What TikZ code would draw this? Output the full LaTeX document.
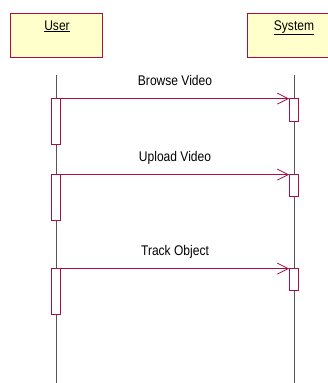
\documentclass[tikz,border=0pt]{standalone}
\usepackage{fontspec}
\setmainfont{Liberation Sans}[FakeStretch=0.86]
\usetikzlibrary{arrows.meta}
\definecolor{umlred}{HTML}{A8103F}
\definecolor{umlfill}{HTML}{FFFFCC}
\definecolor{lifegray}{HTML}{555555}
\tikzset{
  objbox/.style={draw=umlred, fill=umlfill, line width=0.9pt, minimum width=92pt,
    minimum height=44pt, inner sep=0pt, text depth=0pt, anchor=north west},
  objlabel/.style={font=\fontsize{14}{16}\selectfont, anchor=base},
  lifeline/.style={draw=lifegray, line width=0.6pt},
  actbar/.style={draw=umlred, fill=white, line width=0.8pt, minimum width=9pt,
    inner sep=0pt, anchor=north},
  msg/.style={draw=umlred, line width=0.8pt, -{Straight Barb[length=11pt,width=11pt,line width=0.8pt]}},
  msglabel/.style={font=\fontsize{14}{16}\selectfont, anchor=base}
}
\begin{document}
\begin{tikzpicture}[x=1pt,y=-1pt]
\useasboundingbox (0,0) rectangle (328,383);
% object heads
\node[objbox] (user) at (10,13) {};
\node[objbox, minimum width=83pt] (system) at (247,13) {};
\node[objlabel] (userlbl) at (57,30) {\underline{User}};
\node[objlabel] (syslbl) at (294,30) {\underline{System}};
% lifelines
\coordinate (ut) at (56,75);
\coordinate (ub) at (56,383);
\coordinate (st) at (294,75);
\coordinate (sb) at (294,383);
\draw[lifeline] (ut) -- (ub);
\draw[lifeline] (st) -- (sb);
% activation bars
\node[actbar, minimum height=46pt] (ua1) at (56,98) {};
\node[actbar, minimum height=23pt] (sa1) at (294,98) {};
\node[actbar, minimum height=46pt] (ua2) at (56,174) {};
\node[actbar, minimum height=22pt] (sa2) at (294,174) {};
\node[actbar, minimum height=46pt] (ua3) at (56,268) {};
\node[actbar, minimum height=22pt] (sa3) at (294,268) {};
% messages
\draw[msg] ([yshift=-0.6pt]ua1.north east) -- ([yshift=-0.6pt]sa1.north west);
\draw[msg] ([yshift=-0.6pt]ua2.north east) -- ([yshift=-0.6pt]sa2.north west);
\draw[msg] ([yshift=-0.6pt]ua3.north east) -- ([yshift=-0.6pt]sa3.north west);
\node[msglabel] (m1) at (175,85) {Browse Video};
\node[msglabel] (m2) at (175,161) {Upload Video};
\node[msglabel] (m3) at (175,255) {Track Object};
\end{tikzpicture}
\end{document}
